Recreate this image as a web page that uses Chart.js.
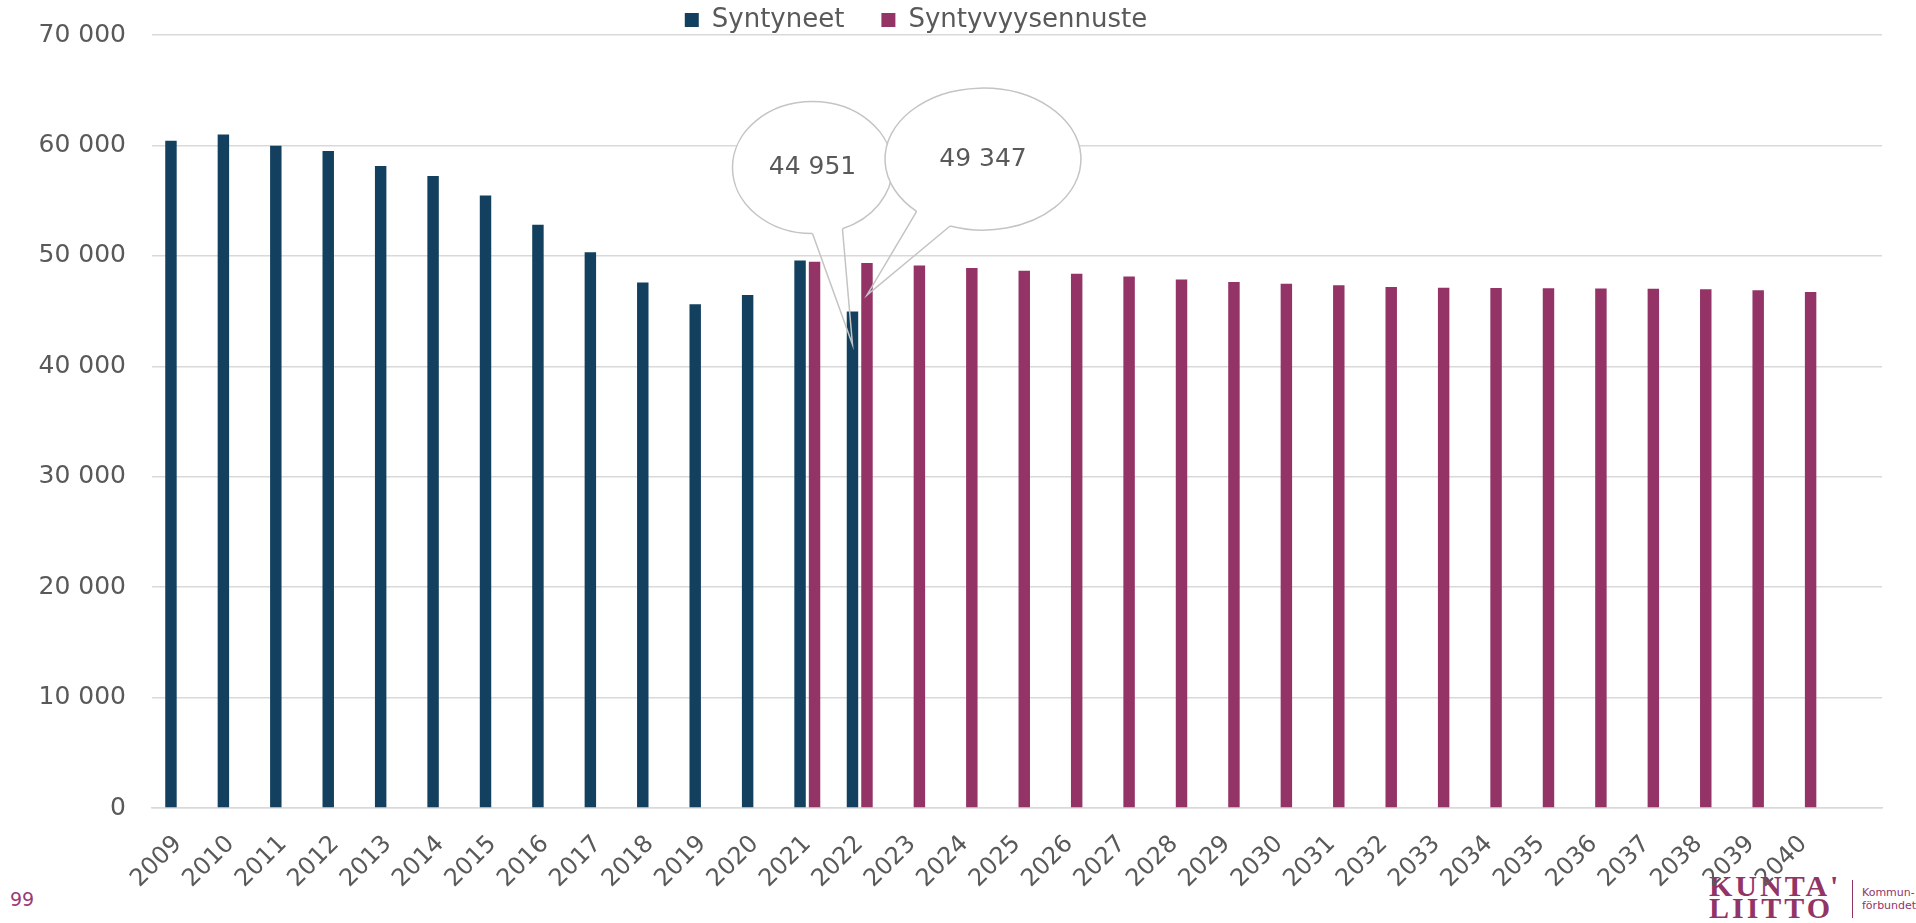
<!DOCTYPE html>
<html>
<head>
<meta charset="utf-8">
<script src="https://cdn.jsdelivr.net/npm/chart.js@4.4.1/dist/chart.umd.min.js"></script>
<style>
html,body{margin:0;padding:0;background:#fff;overflow:hidden}
#wrap{position:relative;width:1916px;height:923px}
#page{position:absolute;left:10px;top:888px;font:19px "DejaVu Sans";color:#9b3b73}
#logo{position:absolute;left:1709px;top:875px;font:bold 30px "Liberation Serif";color:#933467;line-height:22px;letter-spacing:3px}
#bar{position:absolute;left:1852px;top:880px;width:1px;height:38px;background:#933467}
#sub{position:absolute;left:1862px;top:886px;font:11px "DejaVu Sans";color:#933467;line-height:13px}
#cv{position:absolute;left:0;top:0;width:1916px;height:923px}
</style>
</head>
<body>
<div id="wrap">
  <div id="page">99</div>
  <div id="logo">KUNTA'<br>LIITTO</div>
  <div id="bar"></div>
  <div id="sub">Kommun-<br>förbundet</div>
  <div id="cv"><canvas id="c"></canvas></div>
</div>
<script>
// ---- data ----
const years = ['2009','2010','2011','2012','2013','2014','2015','2016','2017','2018','2019','2020',
  '2021','2022','2023','2024','2025','2026','2027','2028','2029','2030','2031','2032','2033',
  '2034','2035','2036','2037','2038','2039','2040',''];
const syntyneet = [60430, 60980, 59960, 59490, 58140, 57230, 55470, 52810, 50320, 47580, 45610, 46460,
  49590, 44951, null, null, null, null, null, null, null, null, null, null, null,
  null, null, null, null, null, null, null, null];
const syntyvyysennuste = [null, null, null, null, null, null, null, null, null, null, null, null,
  49460, 49347, 49130, 48890, 48650, 48380, 48140, 47870, 47630, 47480, 47330, 47180, 47120,
  47090, 47060, 47050, 47030, 46970, 46880, 46730, null];
const yTicks = [0, 10000, 20000, 30000, 40000, 50000, 60000, 70000];
const seriesNames = ['Syntyneet', 'Syntyvyysennuste'];
const calloutYear = '2022';

// ---- helpers ----
const fmt = v => String(Math.round(v)).replace(/\B(?=(\d{3})+(?!\d))/g, ' ');
Chart.defaults.font.family = '"DejaVu Sans"';
Chart.defaults.color = '#595959';

const callouts = [
  {ds:0, dx:-40, dy:-177, rx:80, ry:66, a1:68, a2:90, tipDy:33},
  {ds:1, dx:116, dy:-136, rx:98, ry:71, a1:109.6, a2:132.6, tipDy:32}
];

const calloutPlugin = {
  id: 'callouts',
  afterDatasetsDraw(chart) {
    const ctx = chart.ctx;
    const idx = years.indexOf(calloutYear);
    const rad = d => d * Math.PI / 180;
    callouts.forEach(c => {
      const el = chart.getDatasetMeta(c.ds).data[idx];
      const value = chart.data.datasets[c.ds].data[idx];
      const tx = el.x, ty = el.y + c.tipDy;
      const cx = tx + c.dx, cy = ty + c.dy;
      const p1 = [cx + c.rx * Math.cos(rad(c.a1)), cy + c.ry * Math.sin(rad(c.a1))];
      const p2 = [cx + c.rx * Math.cos(rad(c.a2)), cy + c.ry * Math.sin(rad(c.a2))];
      ctx.save();
      ctx.beginPath();
      ctx.ellipse(cx, cy, c.rx, c.ry, 0, 0, 2 * Math.PI);
      ctx.fillStyle = '#ffffff';
      ctx.fill();
      ctx.strokeStyle = '#c4c4c4';
      ctx.lineWidth = 1.5;
      ctx.beginPath();
      ctx.ellipse(cx, cy, c.rx, c.ry, 0, rad(c.a2), rad(c.a1) + 2 * Math.PI);
      ctx.stroke();
      ctx.beginPath();
      ctx.moveTo(p1[0], p1[1]);
      ctx.lineTo(tx, ty);
      ctx.lineTo(p2[0], p2[1]);
      ctx.stroke();
      ctx.fillStyle = '#595959';
      ctx.font = '25px "DejaVu Sans"';
      ctx.textAlign = 'center';
      ctx.textBaseline = 'middle';
      ctx.fillText(fmt(value), cx, cy);
      ctx.restore();
    });
  }
};

const legendTweak = {
  id: 'legendTweak',
  beforeInit(chart) {
    const lg = chart.legend;
    const fit = lg.fit;
    lg.fit = function () { fit.call(this); this.height = 35; };
  },
  afterLayout(chart) {
    const lg = chart.legend;
    const w = lg.right - lg.left;
    lg.left = 916 - w / 2;
    lg.right = 916 + w / 2;
    const pad = lg.options.labels.padding;
    lg.top = 7 - pad;
    lg.bottom = 40;
  }
};

new Chart(document.getElementById('c'), {
  type: 'bar',
  data: {
    labels: years,
    datasets: [
      {label: seriesNames[0], data: syntyneet, backgroundColor: '#13405f',
       categoryPercentage: 0.553, barPercentage: 0.79},
      {label: seriesNames[1], data: syntyvyysennuste, backgroundColor: '#943366',
       categoryPercentage: 0.553, barPercentage: 0.79}
    ]
  },
  options: {
    responsive: true,
    maintainAspectRatio: false,
    animation: false,
    layout: {padding: {left: 0, right: 34, top: 0, bottom: 0}},
    plugins: {
      legend: {
        position: 'top',
        align: 'center',
        labels: {boxWidth: 14, boxHeight: 14, padding: 37, color: '#595959',
                 font: {size: 26}}
      },
      tooltip: {enabled: false}
    },
    scales: {
      x: {
        grid: {display: false},
        border: {display: true, color: '#d9d9d9', width: 1.5},
        ticks: {minRotation: 45, maxRotation: 45, autoSkip: false, padding: 14,
                color: '#595959', font: {size: 24}},
        afterFit(s) { s.height = 115; }
      },
      y: {
        min: 0, max: 70000,
        afterBuildTicks(s) { s.ticks = yTicks.map(v => ({value: v})); },
        grid: {color: '#d9d9d9', lineWidth: 1.5, drawTicks: false},
        border: {display: false},
        ticks: {padding: 26, color: '#595959', font: {size: 25},
                callback: v => fmt(v)},
        afterFit(s) { s.width = 152; s.paddingTop = 0; s.paddingBottom = 0; }
      }
    }
  },
  plugins: [legendTweak, calloutPlugin]
});
</script>
</body>
</html>
